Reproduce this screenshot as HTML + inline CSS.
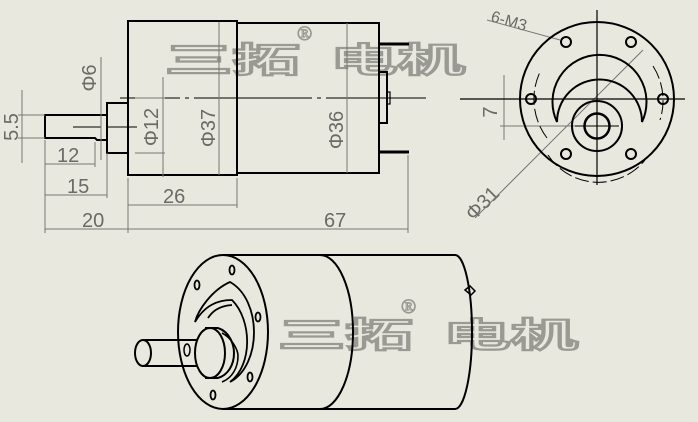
<!DOCTYPE html>
<html><head><meta charset="utf-8"><style>
html,body{margin:0;padding:0;background:#e8e8de;}
svg{display:block}
.wm{font-family:"WenQuanYi Zen Hei","Noto Sans CJK SC",sans-serif;font-weight:bold;font-size:34px;fill:#e8e8de;stroke:#9a9a94;stroke-width:2.2;}
.r{font-family:"Liberation Serif",serif;font-size:20px;fill:none;stroke:#9a9a94;stroke-width:1}
.dim{font-family:"Liberation Sans",sans-serif;font-size:20px;fill:#6a6a66;}
</style></head><body>
<svg width="698" height="422" viewBox="0 0 698 422" xmlns="http://www.w3.org/2000/svg">
<rect width="698" height="422" fill="#e8e8de"/>
<g>
<text class="wm" x="165" y="72" textLength="300" lengthAdjust="spacingAndGlyphs">三拓&#160;&#160;电机</text>
<text class="r" x="297" y="40">®</text>
<text class="wm" x="278" y="347" textLength="300" lengthAdjust="spacingAndGlyphs">三拓&#160;&#160;电机</text>
<text class="r" x="401" y="313">®</text>
</g>
<!-- front view -->
<g fill="none" stroke="#000" stroke-width="2">
<rect x="128" y="21" width="109" height="154"/>
<rect x="237" y="23" width="142" height="150"/>
<path d="M379 72h8v51h-8"/>
<rect x="387" y="92" width="3" height="12" stroke-width="1.2"/>
<path d="M379 44h30M379 152h30" stroke-width="3"/>
<path d="M128 103h-21v50h21"/>
<path d="M107 115h-62v23h50l2 2h10"/>
</g>
<g stroke="#000" stroke-width="1" fill="none">
<path d="M120 98h60m5 0h4m5 0h118m5 0h4m5 0h100"/>
<path d="M73 127h28m6 0h30"/>
</g>
<g stroke="#777" stroke-width="1" fill="none">
<path d="M101 57v103M163 77v100M219 22v153M347 23v150"/>
<path d="M22 90v73M18 115h27M18 138h27"/>
<path d="M45 140v93M95 142v25M107 153v45M128 178v55M237 178v30M408 155v78"/>
<path d="M45 164h50M45 195h62M128 205h109M45 229h83M128 229h280"/>
<path d="M135 153h30M135 98h30"/>
</g>
<g class="dim">
<text x="57" y="162">12</text>
<text x="67" y="193">15</text>
<text x="163" y="203">26</text>
<text x="82" y="227">20</text>
<text x="324" y="227">67</text>
<text transform="translate(18,127) rotate(-90)" text-anchor="middle">5.5</text>
<text transform="translate(96,78) rotate(-90)" text-anchor="middle">Φ6</text>
<text transform="translate(158,127) rotate(-90)" text-anchor="middle">Φ12</text>
<text transform="translate(215,128) rotate(-90)" text-anchor="middle">Φ37</text>
<text transform="translate(343,130) rotate(-90)" text-anchor="middle">Φ36</text>
<text transform="translate(497,112) rotate(-90)" text-anchor="middle">7</text>
<text transform="translate(487,208) rotate(-45)" text-anchor="middle">Φ31</text>
<text transform="translate(490,21) rotate(16)" font-size="16">6-M3</text>
</g>
<!-- side view -->
<g stroke="#777" stroke-width="1" fill="none">
<path d="M504 75v65M500 99h90M500 126h90"/>
<path d="M643 50L475 218"/>
<path d="M487 20L560 40"/>
</g>
<g stroke="#000" fill="none">
<path d="M597 10v175M460 99h225" stroke-width="1.2"/>
<circle cx="597" cy="99" r="77" stroke-width="2"/>
<path d="M547 138A64 64 0 0 1 540 72M653 66A64 64 0 0 1 660 120M548 155A60 60 0 0 0 645 160" stroke-width="1" stroke-dasharray="14 4"/>
<path d="M557 122A47 47 0 1 1 642 122A42 42 0 0 0 557 122Z" stroke-width="2"/>
<circle cx="597" cy="126" r="25" stroke-width="2"/>
<circle cx="597" cy="126" r="12.5" stroke-width="2.5"/>
<path d="M575 126h44M597 110v30" stroke-width="1"/>
<g stroke-width="2">
<circle cx="566" cy="42" r="5"/><circle cx="631" cy="42" r="5"/>
<circle cx="531" cy="99" r="5"/><circle cx="663" cy="99" r="5"/>
<circle cx="566" cy="154" r="5"/><circle cx="631" cy="154" r="5"/>
</g>
</g>
<!-- isometric -->
<g stroke="#000" stroke-width="2" fill="none">
<path d="M223 255H455M223 409H455"/>
<path d="M455 255A17 77 0 0 1 455 409"/>
<path d="M320 255A33 77 0 0 1 320 409"/>
<ellipse cx="223" cy="332" rx="45" ry="77"/>
<path d="M230 282C212 290 198 310 195 322C205 305 218 300 232 300C252 320 253 365 230 382C262 365 262 300 230 282Z" stroke-width="1.8"/>
<path d="M232 305C218 306 212 312 208 318" stroke-width="1.8"/>
<ellipse cx="210" cy="353" rx="15" ry="25" fill="#e8e8de"/>
<path d="M205 328H218M205 378H218"/>
<path d="M218 328C230 332 234 345 234 353C234 365 228 375 218 378"/>
<path d="M222 333C232 338 238 350 238 356C238 368 232 378 222 382" stroke-width="1.6"/>
<path d="M143 340H197M143 366H197"/>
<ellipse cx="143" cy="353" rx="8" ry="13" fill="#e8e8de"/>
<ellipse cx="187" cy="350" rx="3" ry="6" stroke-width="1.5"/>
<g stroke-width="1.8">
<ellipse cx="232" cy="270" rx="2.5" ry="4.5"/>
<ellipse cx="197" cy="285" rx="2.5" ry="4.5"/>
<ellipse cx="258" cy="317" rx="2.5" ry="4.5"/>
<ellipse cx="250" cy="377" rx="2.5" ry="4.5"/>
<ellipse cx="213" cy="395" rx="2.5" ry="4.5"/>
</g>
<path d="M465 290l5 -4l5 5l-4 4z" stroke-width="1.5"/>
</g>
</svg>
</body></html>
